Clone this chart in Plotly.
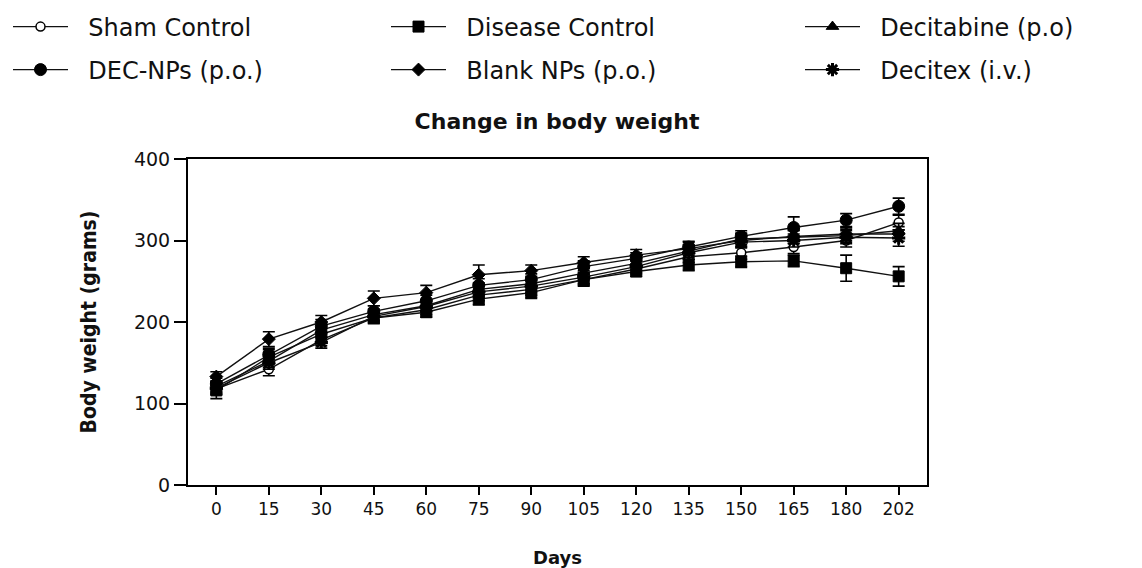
import plotly.graph_objects as go

days = ["0", "15", "30", "45", "60", "75", "90", "105", "120", "135", "150", "165", "180", "202"]

sham_control = [118, 142, 178, 205, 215, 233, 240, 252, 265, 280, 285, 292, 300, 322]
sham_sem = [7, 8, 7, 6, 6, 7, 7, 7, 6, 7, 8, 8, 8, 9]

disease_control = [116, 157, 185, 205, 212, 228, 236, 252, 262, 270, 274, 275, 266, 256]
disease_sem = [10, 9, 8, 7, 6, 7, 7, 8, 6, 7, 7, 7, 16, 12]

decitabine = [121, 152, 190, 209, 220, 240, 247, 260, 272, 287, 302, 304, 306, 312]
decitabine_sem = [7, 8, 8, 7, 7, 8, 8, 8, 7, 8, 7, 8, 8, 9]

dec_nps = [124, 160, 195, 213, 226, 245, 252, 268, 278, 292, 305, 316, 325, 342]
dec_nps_sem = [7, 8, 8, 7, 7, 8, 7, 7, 7, 7, 7, 13, 8, 10]

blank_nps = [133, 179, 200, 229, 236, 258, 263, 273, 282, 290, 300, 305, 308, 308]
blank_nps_sem = [6, 9, 8, 9, 9, 12, 7, 7, 7, 8, 8, 8, 8, 9]

decitex = [119, 150, 175, 207, 219, 237, 244, 255, 268, 285, 298, 300, 304, 303]
decitex_sem = [7, 8, 7, 6, 6, 7, 8, 8, 7, 8, 7, 8, 8, 10]

series = [
    ("Sham Control", sham_control, sham_sem, dict(symbol="circle", size=9, color="white", line=dict(color="black", width=1.5)), "legend"),
    ("Disease Control", disease_control, disease_sem, dict(symbol="square", size=11, color="black", line=dict(color="black", width=1)), "legend2"),
    ("Decitabine (p.o)", decitabine, decitabine_sem, dict(symbol="triangle-up", size=11, color="black", line=dict(color="black", width=1)), "legend3"),
    ("DEC-NPs (p.o.)", dec_nps, dec_nps_sem, dict(symbol="circle", size=12, color="black", line=dict(color="black", width=1)), "legend4"),
    ("Blank NPs (p.o.)", blank_nps, blank_nps_sem, dict(symbol="diamond", size=10, color="black", line=dict(color="black", width=1)), "legend5"),
    ("Decitex (i.v.)", decitex, decitex_sem, dict(symbol="asterisk-open", size=11, color="black", line=dict(color="black", width=3)), "legend6"),
]

NBSP = "\u00a0"
W, H = 1134, 560  # page body has an 8px margin

fig = go.Figure()
for name, vals, sem, marker, lg in series:
    fig.add_trace(go.Scatter(
        x=days, y=vals, name=NBSP * 2 + name, mode="lines+markers",
        line=dict(color="#111111", width=1.4),
        marker=marker,
        error_y=dict(type="data", array=sem, visible=True, color="black", thickness=1.6, width=6),
        legend=lg,
    ))

legend_font = dict(family="DejaVu Sans, Arial, sans-serif", size=24, color="#111111")
positions = {
    "legend": (-4, 19), "legend2": (378, 19), "legend3": (792, 19),
    "legend4": (-4, 62), "legend5": (378, 62), "legend6": (792, 62),
}
legend_layouts = {}
for key, (px, py) in positions.items():
    legend_layouts[key] = dict(
        xref="container", yref="container",
        x=px / W, y=1 - py / H, xanchor="left", yanchor="middle",
        orientation="h", font=legend_font, itemwidth=55,
        bgcolor="rgba(0,0,0,0)", borderwidth=0,
    )

fig.update_layout(
    width=W, height=H,
    paper_bgcolor="white", plot_bgcolor="white",
    margin=dict(l=180, r=215, t=151, b=83, autoexpand=False),
    showlegend=True,
    title=dict(text="<b>Change in body weight</b>", x=549 / W, xanchor="center",
               y=1 - 113 / H, yanchor="middle",
               font=dict(family="DejaVu Sans, Arial, sans-serif", size=22, color="#111111")),
    **legend_layouts,
)

fig.update_xaxes(
    type="category", range=[-0.54, 13.54],
    showline=True, linecolor="black", linewidth=2, mirror=True,
    ticks="outside", ticklen=8, tickwidth=2, tickcolor="black",
    showgrid=False, zeroline=False,
    tickfont=dict(family="DejaVu Sans, Arial, sans-serif", size=17, color="#111111"),
    title=dict(text="<b>Days</b>", standoff=33,
               font=dict(family="DejaVu Sans, Arial, sans-serif", size=18, color="#111111")),
)
fig.update_yaxes(
    range=[0, 400], tickvals=[0, 100, 200, 300, 400],
    showline=True, linecolor="black", linewidth=2, mirror=True,
    ticks="outside", ticklen=12, tickwidth=2, tickcolor="black",
    showgrid=False, zeroline=False,
    tickfont=dict(family="DejaVu Sans, Arial, sans-serif", size=19, color="#111111"),
    title=dict(text="<b>Body weight (grams)</b>", standoff=32,
               font=dict(family="DejaVu Sans Condensed, Liberation Sans Narrow, DejaVu Sans, sans-serif", size=21, color="#111111")),
)

fig.write_html("out.html")
